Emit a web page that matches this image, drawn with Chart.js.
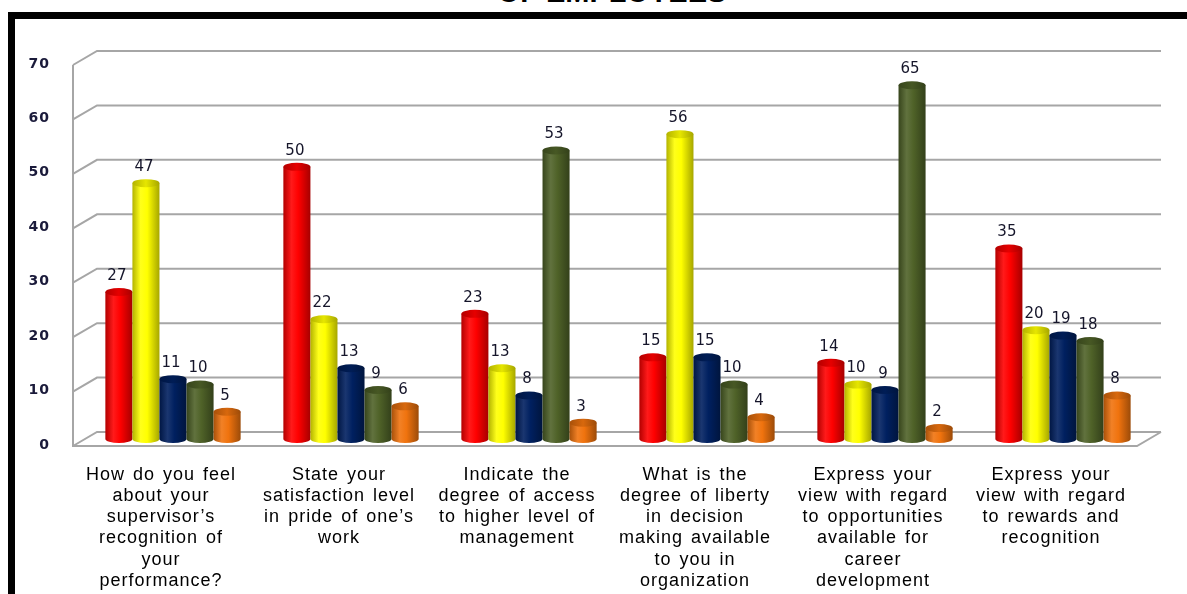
<!DOCTYPE html>
<html lang="en">
<head>
  <title>Employee Survey Responses</title>
  <meta charset="UTF-8" />
  <script src="https://cdn.jsdelivr.net/npm/chart.js"></script>
  <style>
    html, body { margin: 0; padding: 0; background: #fff; overflow: hidden; }
    .wrap { position: relative; width: 1187px; height: 594px; overflow: hidden; }
    .frame {
      position: absolute; left: 8px; top: 12px; width: 1300px; height: 700px;
      border-top: 7px solid #000; border-left: 7px solid #000;
    }
    .heading {
      position: absolute; left: 0; width: 1224px; top: -22px; text-align: center;
      font: bold 29px "Liberation Sans", Arial, sans-serif; line-height: 29px; color: #000;
    }
    #chart { position: absolute; left: 0; top: 0; }
  </style>
</head>
<body>
  <div class="wrap">
    <div class="heading">OF EMPLOYEES</div>
    <div class="frame"></div>
    <canvas id="chart" width="1187" height="594"></canvas>
  </div>

  <script>
    // survey questions (x axis)
    const questions = [
      ['How do you feel', 'about your', 'supervisor\u2019s', 'recognition of', 'your', 'performance?'],
      ['State your', 'satisfaction level', 'in pride of one\u2019s', 'work'],
      ['Indicate the', 'degree of access', 'to higher level of', 'management'],
      ['What is the', 'degree of liberty', 'in decision', 'making available', 'to you in', 'organization'],
      ['Express your', 'view with regard', 'to opportunities', 'available for', 'career', 'development'],
      ['Express your', 'view with regard', 'to rewards and', 'recognition']
    ];

    // responses per answer option
    const redValues    = [27, 50, 23, 15, 14, 35];
    const yellowValues = [47, 22, 13, 56, 10, 20];
    const navyValues   = [11, 13, 8, 15, 9, 19];
    const greenValues  = [10, 9, 53, 10, 65, 18];
    const orangeValues = [5, 6, 3, 4, 2, 8];

    const yTicks = [0, 10, 20, 30, 40, 50, 60, 70];

    const seriesColors = [
      [255, 0, 0],
      [255, 255, 0],
      [0, 32, 96],
      [79, 98, 40],
      [240, 115, 14]
    ];

    function shade(rgb, amt) {
      const t = amt < 0 ? 0 : 255;
      const p = Math.abs(amt);
      return 'rgb(' + rgb.map(c => Math.round(c + (t - c) * p)).join(',') + ')';
    }

    function drawCylinder(ctx, x, top, base, w, rgb) {
      const rx = w / 2, ry = 4;
      const left = x - rx, right = x + rx;
      const grad = ctx.createLinearGradient(left, 0, right, 0);
      grad.addColorStop(0, shade(rgb, -0.3));
      grad.addColorStop(0.3, shade(rgb, 0.1));
      grad.addColorStop(0.55, shade(rgb, 0));
      grad.addColorStop(1, shade(rgb, -0.35));

      ctx.beginPath();
      ctx.moveTo(left, top);
      ctx.lineTo(left, base);
      ctx.ellipse(x, base, rx, ry, 0, Math.PI, 0, true);
      ctx.lineTo(right, top);
      ctx.closePath();
      ctx.fillStyle = grad;
      ctx.fill();

      // top cap
      const capGrad = ctx.createLinearGradient(left, 0, right, 0);
      capGrad.addColorStop(0, shade(rgb, -0.3));
      capGrad.addColorStop(0.5, shade(rgb, -0.1));
      capGrad.addColorStop(1, shade(rgb, -0.35));
      ctx.beginPath();
      ctx.ellipse(x, top, rx, ry, 0, 0, Math.PI * 2);
      ctx.fillStyle = capGrad;
      ctx.fill();
    }

    // back wall, side wall and floor drawn in perspective, then the cylinders
    const wallPlugin = {
      id: 'walls',
      beforeDraw(chart) {
        // the axis text is set a little wider than the font's default spacing
        chart.ctx.letterSpacing = '1px';
        chart.ctx.wordSpacing = '2px';
      },
      beforeDatasetsDraw(chart) {
        const ctx = chart.ctx;
        const ys = chart.scales.y;
        const area = chart.chartArea;
        const frontX = area.left - 11, backX = area.left + 13;
        const backRight = area.right + 9;
        ctx.save();
        ctx.strokeStyle = '#a6a6a6';
        ctx.lineWidth = 2;
        yTicks.forEach(v => {
          const p = ys.getPixelForValue(v);
          ctx.beginPath();
          ctx.moveTo(frontX, p + 7);
          ctx.lineTo(backX, p - 7);
          ctx.lineTo(backRight, p - 7);
          ctx.stroke();
        });
        const p0 = ys.getPixelForValue(0);
        const pTop = ys.getPixelForValue(70);
        ctx.beginPath();
        ctx.moveTo(frontX, pTop + 7);
        ctx.lineTo(frontX, p0 + 7);
        ctx.lineTo(backRight - 24, p0 + 7);
        ctx.lineTo(backRight, p0 - 7);
        ctx.stroke();
        ctx.restore();
      },
      afterDatasetsDraw(chart) {
        const ctx = chart.ctx;
        ctx.save();
        chart.data.datasets.forEach((ds, i) => {
          const meta = chart.getDatasetMeta(i);
          meta.data.forEach(bar => {
            drawCylinder(ctx, bar.x, bar.y, bar.base, bar.width, seriesColors[i]);
          });
        });
        ctx.letterSpacing = '0px';
        ctx.wordSpacing = '0px';
        ctx.fillStyle = '#15152a';
        ctx.font = '15px "DejaVu Sans", Verdana, sans-serif';
        ctx.textAlign = 'center';
        ctx.textBaseline = 'middle';
        chart.data.datasets.forEach((ds, i) => {
          const meta = chart.getDatasetMeta(i);
          meta.data.forEach((bar, j) => {
            ctx.fillText(String(ds.data[j]), bar.x - 2, bar.y - 16);
          });
        });
        ctx.restore();
      },
      afterDraw(chart) {
        chart.ctx.letterSpacing = '0px';
        chart.ctx.wordSpacing = '0px';
      }
    };

    const makeSet = (label, data) => ({
      label: label,
      data: data,
      backgroundColor: 'rgba(0,0,0,0)',
      borderWidth: 0
    });

    new Chart(document.getElementById('chart'), {
      type: 'bar',
      data: {
        labels: questions,
        datasets: [
          makeSet('Option 1', redValues),
          makeSet('Option 2', yellowValues),
          makeSet('Option 3', navyValues),
          makeSet('Option 4', greenValues),
          makeSet('Option 5', orangeValues)
        ]
      },
      options: {
        responsive: false,
        devicePixelRatio: 1,
        animation: false,
        layout: { padding: { left: 0, top: 58, right: 35, bottom: 0 } },
        plugins: {
          legend: { display: false },
          tooltip: { enabled: false }
        },
        datasets: { bar: { categoryPercentage: 0.76, barPercentage: 1.0 } },
        scales: {
          x: {
            grid: { display: false },
            border: { display: false },
            afterFit(scale) { scale.height = 155; },
            ticks: {
              autoSkip: false,
              maxRotation: 0,
              minRotation: 0,
              padding: 17,
              labelOffset: -12,
              color: '#000',
              font: { family: '"Liberation Sans", Arial, sans-serif', size: 18, lineHeight: 1.18 }
            }
          },
          y: {
            min: 0,
            max: 70,
            grid: { display: false, drawTicks: false },
            border: { display: false },
            afterFit(scale) { scale.width = 84; },
            ticks: {
              stepSize: 10,
              padding: 34,
              labelOffset: 6,
              color: '#1a1a3a',
              font: { family: '"DejaVu Sans", Verdana, sans-serif', size: 14, weight: 'bold' }
            }
          }
        }
      },
      plugins: [wallPlugin]
    });
  </script>
</body>
</html>
